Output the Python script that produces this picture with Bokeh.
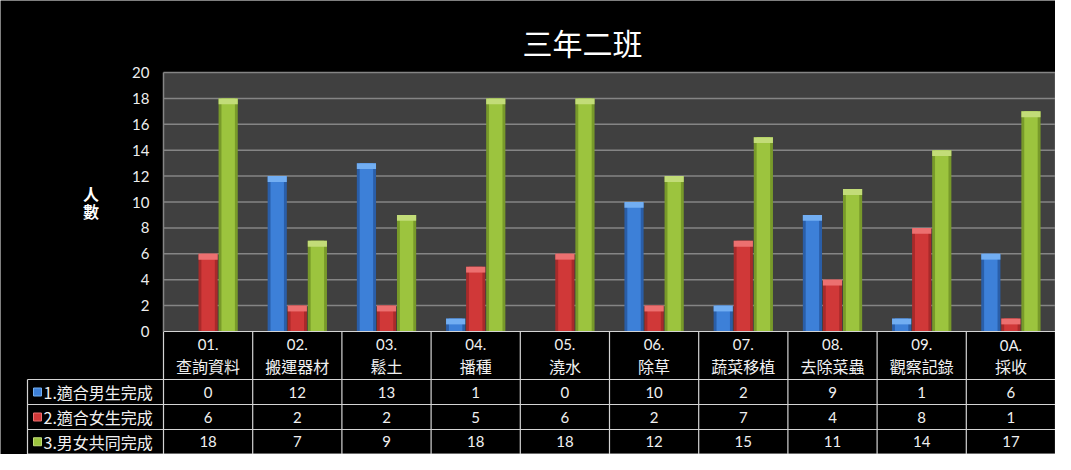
import numpy as np
from bokeh.plotting import figure
from bokeh.models import Range1d, LinearAxis, FixedTicker
from bokeh.core.properties import value
from bokeh.embed import file_html
from bokeh.resources import INLINE

# ---------------- data ----------------
title_text = "三年二班"
y_label = "人\n數"
codes = ["01.", "02.", "03.", "04.", "05.", "06.", "07.", "08.", "09.", "0A."]
names = ["查詢資料", "搬運器材", "鬆土", "播種", "澆水", "除草", "蔬菜移植", "去除菜蟲", "觀察記錄", "採收"]
series_names = ["1.適合男生完成", "2.適合女生完成", "3.男女共同完成"]
boys = [0, 12, 13, 1, 0, 10, 2, 9, 1, 6]
girls = [6, 2, 2, 5, 6, 2, 7, 4, 8, 1]
both = [18, 7, 9, 18, 18, 12, 15, 11, 14, 17]
y_ticks = [0, 2, 4, 6, 8, 10, 12, 14, 16, 18, 20]

# ---------------- styles / layout ----------------
series = [boys, girls, both]
dark = ["#2a5ea8", "#a82a2a", "#789a2a"]
mid = ["#3d80d8", "#d03838", "#9cc43e"]
light = ["#72aef2", "#ec7070", "#c2dc78"]

W, H = 1055, 454
PX_X = 89.2           # px per category column
PX_Y = 12.95          # px per value unit
plot_left = 163       # canvas px of category x=0
plot_bottom = 331     # canvas px (from top) of value 0

def xd(cx):
    return (cx - plot_left) / PX_X

def yd(cy):
    return (plot_bottom - cy) / PX_Y

n = len(codes)
ymax = y_ticks[-1]

p = figure(width=W, height=H, output_backend="svg", toolbar_location=None,
           x_range=Range1d(xd(0), xd(W)), y_range=Range1d(yd(H), yd(0)),
           x_axis_location=None, y_axis_location=None, min_border=0,
           background_fill_color="black", border_fill_color="black",
           outline_line_color=None)
p.grid.visible = False

# plot area background
p.quad(left=[0], right=[n], bottom=[0], top=[ymax], fill_color="#404040", line_color=None)

# grid lines
gy = y_ticks[1:]
p.segment(x0=[0] * len(gy), x1=[n] * len(gy), y0=gy, y1=gy, line_color="#858585", line_width=1.5)
p.segment(x0=[n], x1=[n], y0=[0], y1=[ymax], line_color="#858585", line_width=1.5)

# y axis
yaxis = LinearAxis(fixed_location=0, ticker=FixedTicker(ticks=y_ticks), bounds=(0, ymax),
                   axis_line_color="#858585", axis_line_width=1.5,
                   major_tick_line_color=None, minor_tick_line_color=None,
                   major_tick_in=0, major_tick_out=0, minor_tick_in=0, minor_tick_out=0,
                   major_label_text_color="#eeeeee", major_label_text_font="Lato",
                   major_label_text_font_size="15px", major_label_standoff=14,
                   axis_label=y_label, axis_label_orientation="horizontal",
                   axis_label_text_color="#ffffff", axis_label_text_font="Noto Sans CJK TC",
                   axis_label_text_font_size="16px", axis_label_text_font_style="bold",
                   axis_label_text_line_height=0.76,
                   axis_label_standoff=30)
p.add_layout(yaxis, "left")

# bars
offsets = [-0.225, 0.0, 0.225]
bw = 0.215
xs = np.arange(n) + 0.5
for vals, off, c0, c1, c2 in zip(series, offsets, dark, mid, light):
    v = np.array(vals, dtype=float)
    x = xs + off
    p.vbar(x=x, width=bw, top=v, bottom=0, fill_color=c0, line_color=None)
    p.vbar(x=x, width=bw * 0.7, top=v, bottom=0, fill_color=c1, line_color=None)
    p.vbar(x=x, width=bw, top=v, bottom=np.maximum(v - 0.45, 0), fill_color=c2, line_color=None)

# table geometry (canvas px rows)
row_px = [331, 379, 404, 429, 453.5]
rows = [yd(r) for r in row_px]
leg_left = xd(27)
lc = "#d4d4d4"
# horizontal lines
hx0 = [0] + [leg_left] * 4
hx1 = [n] * 5
p.segment(x0=hx0, x1=hx1, y0=rows, y1=rows, line_color=lc, line_width=1.2)
# vertical lines
vx = list(range(n + 1))
p.segment(x0=vx, x1=vx, y0=[rows[0]] * len(vx), y1=[rows[-1]] * len(vx), line_color=lc, line_width=1.2)
p.segment(x0=[leg_left], x1=[leg_left], y0=[rows[1]], y1=[rows[-1]], line_color=lc, line_width=1.2)

# header texts
p.text(x=xs, y=[yd(344)] * n, text=codes, text_color="#f0f0f0", text_font=value("Lato"),
       text_font_size="15px", text_align="center", text_baseline="middle")
p.text(x=xs, y=[yd(365)] * n, text=names, text_color="#f0f0f0", text_font=value("Noto Sans CJK TC"),
       text_font_size="16px", text_align="center", text_baseline="middle")

# data rows
centers = [(rows[i + 1] + rows[i + 2]) / 2 for i in range(3)]
for vals, cy in zip(series, centers):
    p.text(x=xs, y=[cy] * n, text=[str(v) for v in vals], text_color="#f0f0f0",
           text_font=value("Lato"), text_font_size="15px", text_align="center",
           text_baseline="middle")

# legend column
p.scatter(x=[xd(37)] * 3, y=centers, marker="square", size=8, fill_color=mid,
          line_color=light, line_width=1)
p.text(x=[xd(43)] * 3, y=centers, text=series_names, text_color="#f0f0f0",
       text_font=value("Noto Sans CJK TC"), text_font_size="16px", text_align="left",
       text_baseline="middle")

# title
p.text(x=[xd(582)], y=[yd(41)], text=[title_text], text_color="#ffffff",
       text_font=value("Noto Sans CJK TC"), text_font_size="30px", text_align="center",
       text_baseline="middle")

open("out.html", "w", encoding="utf-8").write(file_html(p, INLINE))
